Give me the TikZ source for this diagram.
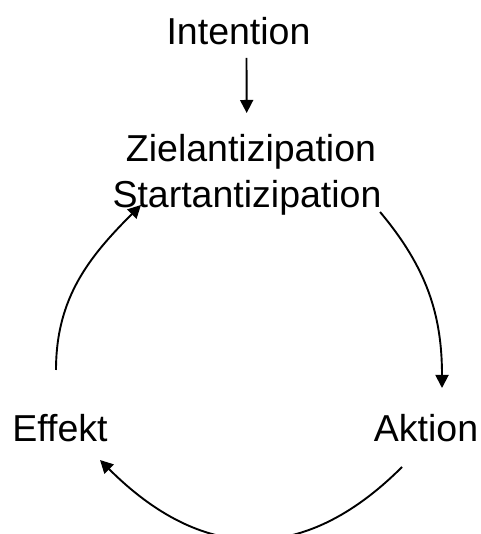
\documentclass[tikz,border=0pt]{standalone}
\usepackage{fontspec}
\setmainfont{Liberation Sans}
\usetikzlibrary{arrows.meta}
\begin{document}
\begin{tikzpicture}[x=1pt,y=1pt,
  lbl/.style={inner sep=0pt,anchor=base,font=\fontsize{37.5}{46}\selectfont},
  conn/.style={line width=1.9pt,-{Triangle[length=13pt,width=13pt]}}]
\useasboundingbox (0,0) rectangle (480,534);
\node[lbl] (int) at (238.5,489) {Intention};
\node[lbl] (ziel) at (251,372) {Zielantizipation};
\node[lbl] (start) at (247,326) {Startantizipation};
\node[lbl] (eff) at (60,92) {Effekt};
\node[lbl] (akt) at (426,92) {Aktion};
\draw[conn] ([shift={(8,-13)}]int.base) -- ([shift={(-4.3,49)}]ziel.base);
\draw[conn] ([shift={(-1.6,-4)}]start.base east) to[out=-50,in=90] ([shift={(16,54)}]akt.base);
\draw[conn] ([shift={(-24,-25)}]akt.base) to[out=225,in=-45,looseness=1.2] ([shift={(40,-18)}]eff.base);
\draw[conn] ([shift={(-4,72)}]eff.base) to[out=90,in=225] ([shift={(28.6,3)}]start.base west);
\end{tikzpicture}
\end{document}
